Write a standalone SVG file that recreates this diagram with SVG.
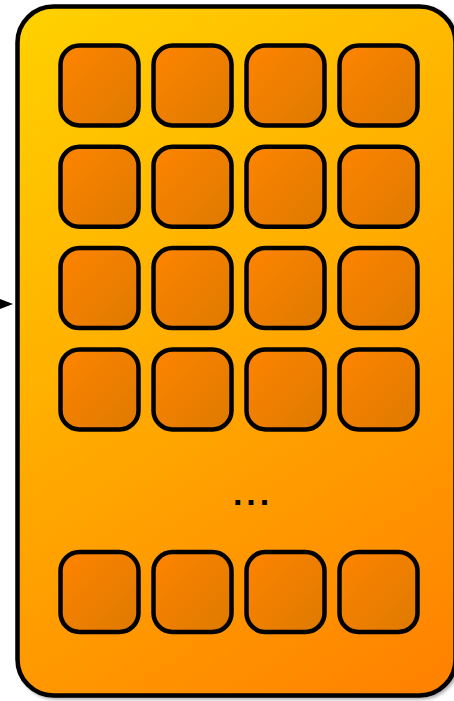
<svg xmlns="http://www.w3.org/2000/svg" width="454" height="701" viewBox="0 0 454 701">
<defs>
<linearGradient id="outerG" gradientUnits="userSpaceOnUse" x1="17" y1="6" x2="456" y2="696">
<stop offset="0" stop-color="#FFD200"/>
<stop offset="1" stop-color="#FF8000"/>
</linearGradient>
<linearGradient id="cellG" x1="0" y1="0" x2="1" y2="1">
<stop offset="0" stop-color="#FF8400"/>
<stop offset="1" stop-color="#DD7A00"/>
</linearGradient>
<filter id="sh" x="-5%" y="-5%" width="115%" height="115%">
<feGaussianBlur in="SourceAlpha" stdDeviation="1.5"/>
<feOffset dx="2" dy="2" result="b"/>
<feComponentTransfer><feFuncA type="linear" slope="0.3"/></feComponentTransfer>
<feMerge><feMergeNode/><feMergeNode in="SourceGraphic"/></feMerge>
</filter>
</defs>
<style>
.cell{fill:url(#cellG);stroke:#000;stroke-width:4.5}
.dots{font-family:"Liberation Sans",Arial,sans-serif;font-weight:bold;font-size:34px;fill:#000}
</style>
<g id="container">
<rect x="17.5" y="6.5" width="438" height="689" rx="36" ry="36" fill="url(#outerG)" stroke="#000" stroke-width="4.5" filter="url(#sh)"/>
</g>
<g id="connectors">
<line x1="-20" y1="304" x2="4" y2="304" stroke="#000" stroke-width="2"/>
<polygon points="0,299 13,304 0,309" fill="#000"/>
</g>
<g id="cells">
<g id="r1">
<rect class="cell" x="60.5" y="45.5" width="78" height="80" rx="19"/>
<rect class="cell" x="153.5" y="45.5" width="78" height="80" rx="19"/>
<rect class="cell" x="246.5" y="45.5" width="78" height="80" rx="19"/>
<rect class="cell" x="339.5" y="45.5" width="78" height="80" rx="19"/>
</g>
<g id="r2">
<rect class="cell" x="60.5" y="146.8" width="78" height="80" rx="19"/>
<rect class="cell" x="153.5" y="146.8" width="78" height="80" rx="19"/>
<rect class="cell" x="246.5" y="146.8" width="78" height="80" rx="19"/>
<rect class="cell" x="339.5" y="146.8" width="78" height="80" rx="19"/>
</g>
<g id="r3">
<rect class="cell" x="60.5" y="248.1" width="78" height="80" rx="19"/>
<rect class="cell" x="153.5" y="248.1" width="78" height="80" rx="19"/>
<rect class="cell" x="246.5" y="248.1" width="78" height="80" rx="19"/>
<rect class="cell" x="339.5" y="248.1" width="78" height="80" rx="19"/>
</g>
<g id="r4">
<rect class="cell" x="60.5" y="349.4" width="78" height="80" rx="19"/>
<rect class="cell" x="153.5" y="349.4" width="78" height="80" rx="19"/>
<rect class="cell" x="246.5" y="349.4" width="78" height="80" rx="19"/>
<rect class="cell" x="339.5" y="349.4" width="78" height="80" rx="19"/>
</g>
<g id="rn">
<rect class="cell" x="60.5" y="552" width="78" height="80" rx="19"/>
<rect class="cell" x="153.5" y="552" width="78" height="80" rx="19"/>
<rect class="cell" x="246.5" y="552" width="78" height="80" rx="19"/>
<rect class="cell" x="339.5" y="552" width="78" height="80" rx="19"/>
</g>
</g>
<g id="ellipsis">
<text class="dots" x="253" y="504.5" text-anchor="middle" letter-spacing="3.9">...</text>
</g>
</svg>
